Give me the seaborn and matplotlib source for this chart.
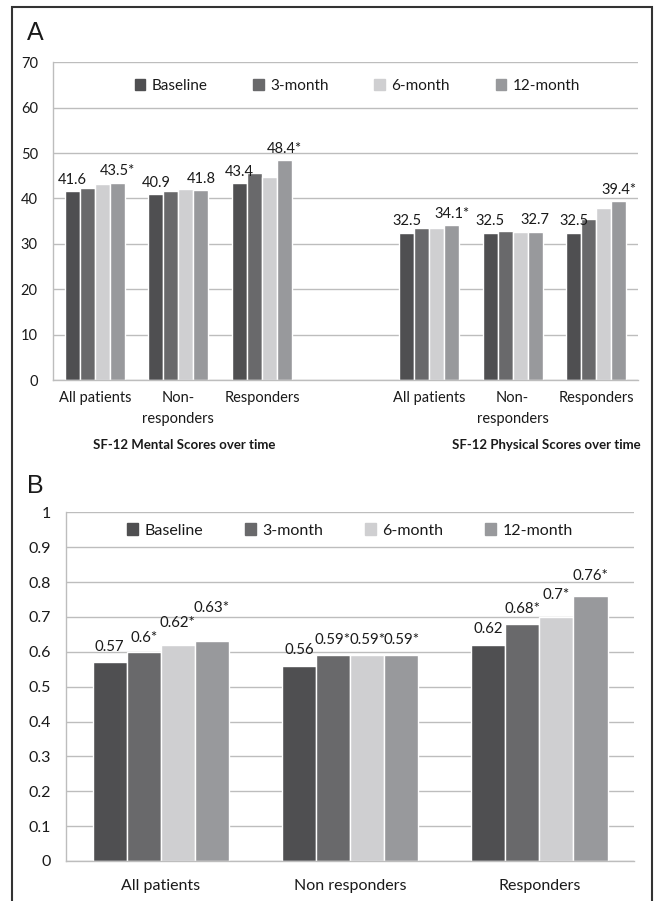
import pandas as pd
import matplotlib
matplotlib.use('Agg')
import matplotlib.pyplot as plt
import seaborn as sns
from matplotlib.patches import Rectangle

# --- data ---
times = ['Baseline', '3-month', '6-month', '12-month']
colors = ['#4f4f51', '#69696b', '#cfcfd1', '#98999c']

groups_a = ['All patients', 'Non-\nresponders', 'Responders']

mental = {
    'Baseline': [41.6, 40.9, 43.4],
    '3-month': [42.4, 41.6, 45.7],
    '6-month': [43.1, 42.1, 44.7],
    '12-month': [43.5, 41.8, 48.4],
}
mental_labels = {
    'Baseline': ['41.6', '40.9', '43.4'],
    '12-month': ['43.5*', '41.8', '48.4*'],
}

physical = {
    'Baseline': [32.5, 32.5, 32.5],
    '3-month': [33.5, 32.9, 35.5],
    '6-month': [33.5, 32.7, 38.0],
    '12-month': [34.1, 32.7, 39.4],
}
physical_labels = {
    'Baseline': ['32.5', '32.5', '32.5'],
    '12-month': ['34.1*', '32.7', '39.4*'],
}

groups_b = ['All patients', 'Non responders', 'Responders']
utility = {
    'Baseline': [0.57, 0.56, 0.62],
    '3-month': [0.60, 0.59, 0.68],
    '6-month': [0.62, 0.59, 0.70],
    '12-month': [0.63, 0.59, 0.76],
}
utility_labels = {
    'Baseline': ['0.57', '0.56', '0.62'],
    '3-month': ['0.6*', '0.59*', '0.68*'],
    '6-month': ['0.62*', '0.59*', '0.7*'],
    '12-month': ['0.63*', '0.59*', '0.76*'],
}

sns.set_style('white')
plt.rcParams['font.family'] = ['Lato', 'DejaVu Sans']
TXT = '#1a1a1a'
GRID = '#bdbdbd'

# label lift (points) in panel B, hand placed in the original to stop overlaps
LIFT_B = {
    'Baseline': [6, 6, 6],
    '3-month': [5, 6, 6],
    '6-month': [11, 6, 11],
    '12-month': [19, 6, 9],
}


def long_df(values, groups, prefix):
    rows = []
    for t in times:
        for g, v in zip(groups, values[t]):
            rows.append({'group': prefix + g, 'time': t, 'value': v})
    return pd.DataFrame(rows)


def style_axis(ax, n_cat, ymax, step, fmt):
    ax.set_xlim(-0.5, n_cat - 0.5)
    ax.set_ylim(0, ymax)
    ticks = [round(i * step, 2) for i in range(int(round(ymax / step)) + 1)]
    ax.set_yticks(ticks, [fmt(t) for t in ticks])
    ax.yaxis.grid(True, color=GRID, lw=1)
    ax.xaxis.grid(False)
    ax.set_axisbelow(True)
    for s in ['top', 'right']:
        ax.spines[s].set_visible(False)
    for s in ['left', 'bottom']:
        ax.spines[s].set_color(GRID)
        ax.spines[s].set_linewidth(1)
    ax.tick_params(axis='y', length=5, color=GRID, width=1, labelsize=10.5, labelcolor=TXT, pad=6)
    ax.tick_params(axis='x', which='major', length=0, labelcolor=TXT, pad=8)
    ax.set_xticks([i + 0.5 for i in range(-1, n_cat)], minor=True)
    ax.tick_params(axis='x', which='minor', length=5, color=GRID, width=1)
    ax.set_xlabel('')
    ax.set_ylabel('')


def legend(ax, x, y, fs, cs):
    handles = [Rectangle((0, 0), 1, 1, color=c) for c in colors]
    ax.legend(handles, times, loc='center', bbox_to_anchor=(x, y), ncol=4, frameon=False,
              handlelength=0.7, handleheight=0.7, handletextpad=0.4, columnspacing=cs,
              fontsize=fs, labelcolor=TXT)


def panel_a(fig):
    ax = fig.add_axes([0.081, 0.578, 0.893, 0.353])
    df = pd.concat([long_df(mental, groups_a, 'm_'), long_df(physical, groups_a, 'p_')])
    order = ['m_' + g for g in groups_a] + ['gap'] + ['p_' + g for g in groups_a]
    sns.barplot(data=df, x='group', y='value', hue='time', order=order, hue_order=times,
                palette=colors, saturation=1, width=0.72, gap=0, ax=ax, legend=False, errorbar=None)
    style_axis(ax, len(order), 70, 10, lambda t: f'{t:g}')
    ax.set_xticks(range(len(order)), groups_a + [''] + groups_a, fontsize=10.5, linespacing=1.6)
    for t, cont in zip(times, ax.containers):
        labs = mental_labels.get(t, [''] * 3) + physical_labels.get(t, [''] * 3)
        ax.bar_label(cont, labels=labs, padding=3, fontsize=10.5, color=TXT)
    legend(ax, 0.52, 0.925, 11, 3.0)
    xt = ax.get_xaxis_transform()
    ax.text(1.07, -0.205, 'SF-12 Mental Scores over time', transform=xt,
            ha='center', va='center', fontsize=9.5, fontweight='bold', color=TXT)
    ax.text(5.4, -0.205, 'SF-12 Physical Scores over time', transform=xt,
            ha='center', va='center', fontsize=9.5, fontweight='bold', color=TXT)


def panel_b(fig):
    ax = fig.add_axes([0.101, 0.0444, 0.867, 0.387])
    df = long_df(utility, groups_b, '')
    sns.barplot(data=df, x='group', y='value', hue='time', order=groups_b, hue_order=times,
                palette=colors, saturation=1, width=0.72, gap=0, ax=ax, legend=False, errorbar=None)
    style_axis(ax, 3, 1.0, 0.1, lambda t: f'{t:g}')
    ax.tick_params(axis='y', labelsize=11.5)
    ax.tick_params(axis='x', which='major', pad=13)
    ax.set_xticks(range(3), groups_b, fontsize=11.5)
    for t, cont in zip(times, ax.containers):
        for bar, lab, lift in zip(cont, utility_labels[t], LIFT_B[t]):
            ax.annotate(lab, (bar.get_x() + bar.get_width() / 2, bar.get_height()),
                        xytext=(0, lift), textcoords='offset points', ha='center', va='bottom',
                        fontsize=10.8, color=TXT)
    legend(ax, 0.5, 0.948, 11.5, 2.6)


def main():
    fig = plt.figure(figsize=(6.55, 9.01), dpi=100)
    panel_a(fig)
    panel_b(fig)
    fig.text(35 / 655, 1 - 33 / 901, 'A', fontsize=18, ha='center', va='center', color=TXT,
             family=['Liberation Sans', 'DejaVu Sans'])
    fig.text(35 / 655, 1 - 486 / 901, 'B', fontsize=18, ha='center', va='center', color=TXT,
             family=['Liberation Sans', 'DejaVu Sans'])
    fig.patches.append(Rectangle((12 / 655, -0.01), 640 / 655, 1 - 7 / 901 + 0.01, transform=fig.transFigure,
                                 fill=False, edgecolor='#333333', lw=1.5))
    fig.savefig('out.png', dpi=100)


if __name__ == '__main__':
    main()
